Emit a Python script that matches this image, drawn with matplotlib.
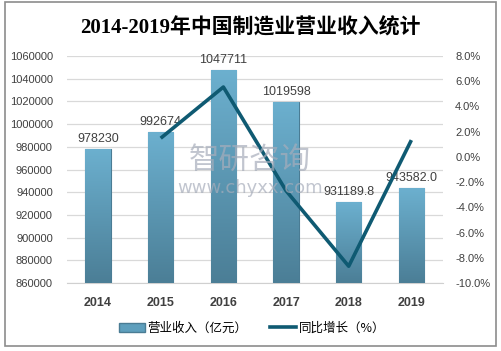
import matplotlib.pyplot as plt
import numpy as np
from matplotlib.patches import Rectangle
from matplotlib.lines import Line2D
from matplotlib.ticker import FuncFormatter
from matplotlib.colors import LinearSegmentedColormap

plt.rcParams['font.family'] = ['Liberation Sans', 'Noto Sans CJK SC']

years = ['2014', '2015', '2016', '2017', '2018', '2019']
revenue = [978230, 992674, 1047711, 1019598, 931189.8, 943582.0]
revenue_labels = ['978230', '992674', '1047711', '1019598', '931189.8', '943582.0']
growth_years = ['2015', '2016', '2017', '2018', '2019']
growth = [1.48, 5.54, -2.68, -8.67, 1.33]

W, H = 502, 351
fig = plt.figure(figsize=(W / 100, H / 100), dpi=100)
fig.patch.set_facecolor('white')
# outer frame
fig.patches.append(Rectangle((5 / W, 1 - 346 / H), 491 / W, 344 / H, transform=fig.transFigure,
                             fill=False, edgecolor='#8c8c8c', linewidth=1.2))

ax = fig.add_axes([66.7 / W, 1 - 283 / H, 376 / W, 227 / H])
ax2 = ax.twinx()

x = np.arange(len(years))
bars = ax.bar(x, revenue, width=0.4, color='#5e9fbd', edgecolor='#4a7c94', linewidth=0.8, zorder=3)

# vertical gradient on each bar
grad = np.linspace(0, 1, 256).reshape(-1, 1)
cmap = LinearSegmentedColormap.from_list('bar', ['#4b7e96', '#6cb0cf'])
for b in bars:
    bx, by = b.get_x(), b.get_y()
    bw, bh = b.get_width(), b.get_height()
    im = ax.imshow(grad, extent=[bx, bx + bw, 860000, by + bh], origin='lower', cmap=cmap,
                   aspect='auto', zorder=3.5)
    im.set_clip_path(b)

for xi, v, lab in zip(x, revenue, revenue_labels):
    ax.text(xi, v + 3500, lab, ha='center', va='bottom', fontsize=9, color='#404040', zorder=6)

ax.set_xlim(-0.5, 5.5)
ax.set_ylim(860000, 1060000)
ax.set_yticks(np.arange(860000, 1060001, 20000))
ax.yaxis.set_major_formatter(FuncFormatter(lambda v, p: f'{int(v)}'))
ax.grid(axis='y', color='#d9d9d9', linewidth=0.9, zorder=0)
ax.set_axisbelow(True)
ax.set_xticks(x)
ax.set_xticklabels(years, fontsize=9, fontweight='bold', color='#404040')
ax.tick_params(axis='x', length=0, pad=10)
ax.tick_params(axis='y', length=0, pad=10, labelsize=8, labelcolor='#404040')
for s in ['top', 'right', 'left']:
    ax.spines[s].set_visible(False)
ax.spines['bottom'].set_color('#d0d0d0')
for s in ['top', 'right', 'left', 'bottom']:
    ax2.spines[s].set_visible(False)

gx = [years.index(y) for y in growth_years]
ax2.plot(gx, growth, color='#0f5a72', linewidth=2.6, zorder=5, solid_capstyle='butt')
ax2.set_ylim(-10, 8)
ax2.set_yticks(np.arange(-10, 8.01, 2))
ax2.yaxis.set_major_formatter(FuncFormatter(lambda v, p: f'{v:.1f}%'))
ax2.tick_params(axis='y', length=0, pad=9, labelsize=8, labelcolor='#404040')
ax.set_zorder(1)
ax2.set_zorder(2)

# watermark
fig.text(250 / W, 1 - 160 / H, '智研咨询', fontsize=22, color='#a7adbb', alpha=0.7,
         ha='center', va='center', family=['Noto Sans CJK SC'], zorder=10)
fig.text(250 / W, 1 - 188 / H, 'www.chyxx.com', fontsize=13, color='#a7adbb', alpha=0.7,
         ha='center', va='center', family=['DejaVu Sans'], zorder=10)

fig.suptitle('2014-2019年中国制造业营业收入统计', x=250 / W, y=1 - 28 / H, va='center',
             fontsize=15, fontweight='bold', family=['Liberation Serif', 'Noto Sans CJK SC'])

handles = [Rectangle((0, 0), 1, 1, facecolor='#5e9fbd', edgecolor='#4a7c94'),
           Line2D([0], [0], color='#0f5a72', linewidth=2.6)]
fig.legend(handles, ['营业收入（亿元）', '同比增长（%）'], loc='center', bbox_to_anchor=(252 / W, 1 - 328 / H),
           ncol=2, frameon=False, handlelength=2.1, columnspacing=1.8, handletextpad=0.2,
           prop={'family': ['Noto Sans CJK SC'], 'size': 9})

fig.savefig('out.png', dpi=100)
